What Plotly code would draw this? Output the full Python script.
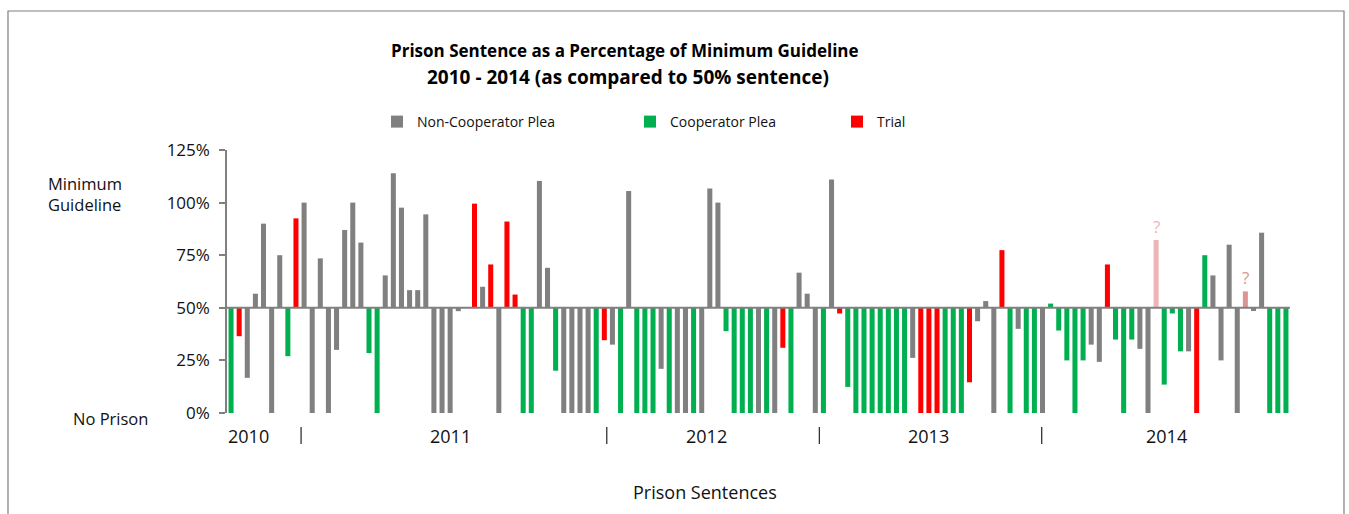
import plotly.graph_objects as go

# ---------------- data ----------------
values = [0, 36.5, 16.7, 56.7, 90, 0, 75, 27, 92.5, 100,
          0, 73.5, 0, 30, 87, 100, 81, 28.5, 0, 65.4,
          114, 97.6, 58.4, 58.4, 94.4, 0, 0, 0, 48.4, 50,
          99.5, 60, 70.6, 0, 91, 56.3, 0, 0, 110.3, 69,
          20.1, 0, 0, 0, 0, 0, 34.6, 32.5, 0, 105.5,
          0, 0, 0, 21, 0, 0, 0, 0, 0, 106.7,
          100, 38.9, 0, 0, 0, 0, 0, 0, 31, 0,
          66.7, 56.7, 0, 0, 111, 47.3, 12.4, 0, 0, 0,
          0, 0, 0, 0, 26.2, 0, 0, 0, 0, 0,
          0, 14.6, 43.6, 53.2, 0, 77.4, 0, 40, 0, 0,
          0, 52, 39.2, 25, 0, 25, 32.5, 24.3, 70.6, 34.9,
          0, 34.9, 30.5, 0, 82.2, 13.5, 47.3, 29.3, 29.3, 0,
          75, 65.4, 25, 80, 0, 57.8, 48.5, 85.7, 0, 0, 0]

kinds = ["C", "T", "N", "N", "N", "N", "N", "C", "T", "N",
         "N", "N", "N", "N", "N", "N", "N", "C", "C", "N",
         "N", "N", "N", "N", "N", "N", "N", "N", "N", "N",
         "T", "N", "T", "N", "T", "T", "C", "C", "N", "N",
         "C", "N", "N", "N", "N", "C", "T", "N", "C", "N",
         "C", "C", "C", "N", "C", "N", "N", "C", "N", "N",
         "N", "C", "C", "C", "C", "N", "C", "N", "T", "C",
         "N", "N", "N", "C", "N", "T", "C", "C", "C", "C",
         "C", "C", "C", "C", "N", "T", "T", "T", "C", "C",
         "C", "T", "N", "N", "N", "T", "C", "N", "C", "C",
         "N", "C", "C", "C", "C", "C", "N", "N", "T", "C",
         "C", "C", "N", "N", "U", "C", "C", "C", "N", "T",
         "C", "N", "N", "N", "N", "U", "N", "N", "C", "C", "C"]

series_names = {"N": "Non-Cooperator Plea", "C": "Cooperator Plea", "T": "Trial"}
year_labels = ["2010", "2011", "2012", "2013", "2014"]
y_ticks = [0, 25, 50, 75, 100, 125]

# ---------------- style ----------------
FONT = "Open Sans"
colors = {"N": "#808080", "C": "#00B050", "T": "#FF0000"}
unknown_colors = ["#EDB5B5", "#DA9694"]
year_label_x = [3.2, 28.0, 59.6, 86.9, 116.3]
separator_x = [9.63, 47.3, 73.5, 100.9]
legend_x = {"N": 377, "C": 630, "T": 837}   # pixel left of legend item
legend_ids = {"N": "legend", "C": "legend2", "T": "legend3"}

W, H = 1349, 514
L, R, T, B = 227, 59, 150, 101
PW, PH = W - L - R, H - T - B


def px_x(p):
    return (p - L) / PW


def px_y(p):
    return (H - B - p) / PH


xs = list(range(1, len(values) + 1))
BASE = 50

fig = go.Figure()
for k in ["N", "C", "T"]:
    idx = [i for i, kk in enumerate(kinds) if kk == k]
    fig.add_trace(go.Bar(
        x=[xs[i] for i in idx],
        y=[values[i] - BASE for i in idx],
        base=BASE,
        width=0.62,
        marker=dict(color=colors[k], line=dict(width=0)),
        name=series_names[k],
        legend=legend_ids[k],
    ))

u_idx = [i for i, kk in enumerate(kinds) if kk == "U"]
fig.add_trace(go.Bar(
    x=[xs[i] for i in u_idx],
    y=[values[i] - BASE for i in u_idx],
    base=BASE,
    width=0.62,
    marker=dict(color=unknown_colors, line=dict(width=0)),
    showlegend=False,
))
for j, i in enumerate(u_idx):
    fig.add_annotation(x=xs[i], y=values[i], text="?", showarrow=False,
                       xanchor="center", yanchor="bottom", yshift=0,
                       font=dict(family=FONT, size=17, color=unknown_colors[j]))

# 50% baseline
fig.add_shape(type="line", xref="paper", yref="y", x0=0, x1=1, y0=BASE, y1=BASE,
              line=dict(color="#808080", width=2), layer="above")

# year labels and separators
for lab, xv in zip(year_labels, year_label_x):
    fig.add_annotation(x=xv, y=px_y(436), xref="x", yref="paper", text=lab,
                       showarrow=False, xanchor="center", yanchor="middle",
                       font=dict(family=FONT, size=18, color="#111"))
for xv in separator_x:
    fig.add_shape(type="line", xref="x", yref="paper", x0=xv, x1=xv,
                  y0=px_y(427), y1=px_y(444), line=dict(color="#333333", width=1.3))

# title
fig.add_annotation(x=px_x(625), y=px_y(50), xref="paper", yref="paper",
                   text="<b>Prison Sentence as a Percentage of Minimum Guideline</b>",
                   showarrow=False, xanchor="center", yanchor="middle",
                   font=dict(family=FONT, size=17, color="#000"))
fig.add_annotation(x=px_x(628), y=px_y(77), xref="paper", yref="paper",
                   text="<b>2010 - 2014 (as compared to 50% sentence)</b>",
                   showarrow=False, xanchor="center", yanchor="middle",
                   font=dict(family=FONT, size=19, color="#000"))

# side labels
fig.add_annotation(x=px_x(46), y=px_y(194), xref="paper", yref="paper",
                   text="Minimum<br>Guideline", align="left", xanchor="left", yanchor="middle",
                   showarrow=False, font=dict(family=FONT, size=16.5, color="#111"))
fig.add_annotation(x=px_x(71), y=px_y(418), xref="paper", yref="paper",
                   text="No Prison", xanchor="left", yanchor="middle",
                   showarrow=False, font=dict(family=FONT, size=16.5, color="#111"))

# x-axis title
fig.add_annotation(x=px_x(705), y=px_y(492), xref="paper", yref="paper",
                   text="Prison Sentences", showarrow=False,
                   xanchor="center", yanchor="middle",
                   font=dict(family=FONT, size=18, color="#111"))

# outer border
fig.add_shape(type="rect", xref="paper", yref="paper",
              x0=px_x(8), x1=px_x(1344), y0=px_y(530), y1=px_y(11),
              line=dict(color="#7f7f7f", width=1.2), fillcolor="rgba(0,0,0,0)")

legend_common = dict(orientation="h", yanchor="middle", y=px_y(122), xanchor="left",
                     bgcolor="rgba(0,0,0,0)", font=dict(family=FONT, size=14, color="#111"),
                     itemwidth=30)

fig.update_layout(
    width=W, height=H,
    margin=dict(l=L, r=R, t=T, b=B, pad=0),
    paper_bgcolor="white", plot_bgcolor="white",
    barmode="overlay",
    font=dict(family=FONT, color="#111"),
    legend=dict(legend_common, x=px_x(legend_x["N"])),
    legend2=dict(legend_common, x=px_x(legend_x["C"])),
    legend3=dict(legend_common, x=px_x(legend_x["T"])),
    xaxis=dict(range=[0.5, len(values) + 0.5], showline=False, showticklabels=False,
               ticks="", showgrid=False, zeroline=False, fixedrange=True),
    yaxis=dict(range=[0, 125], tickvals=y_ticks, ticktext=[f"{v}%" for v in y_ticks],
               showline=True, linecolor="#808080", linewidth=1.5,
               ticks="outside", ticklen=6, tickcolor="#808080", tickwidth=1.5,
               showgrid=False, zeroline=False,
               tickfont=dict(family=FONT, size=17, color="#111"),
               ticklabelstandoff=6),
)

fig.write_html("out.html", config={"displayModeBar": False},
               post_script="document.body.style.margin='0px';document.body.style.overflow='hidden';")
